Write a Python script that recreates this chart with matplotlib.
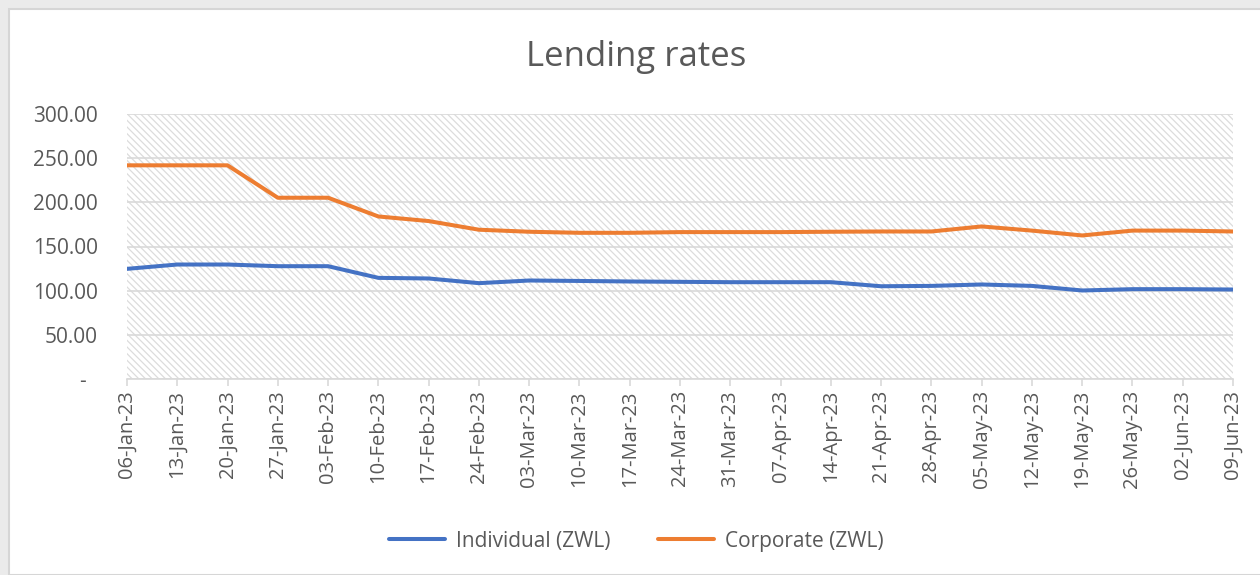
import matplotlib.pyplot as plt
from matplotlib.patches import Rectangle
from matplotlib.ticker import FuncFormatter

plt.rcParams["font.family"] = ["Open Sans", "DejaVu Sans"]
plt.rcParams["hatch.linewidth"] = 0.9

## data
dates = [
    "06-Jan-23", "13-Jan-23", "20-Jan-23", "27-Jan-23", "03-Feb-23",
    "10-Feb-23", "17-Feb-23", "24-Feb-23", "03-Mar-23", "10-Mar-23",
    "17-Mar-23", "24-Mar-23", "31-Mar-23", "07-Apr-23", "14-Apr-23",
    "21-Apr-23", "28-Apr-23", "05-May-23", "12-May-23", "19-May-23",
    "26-May-23", "02-Jun-23", "09-Jun-23",
]
individual = [
    124.7, 129.6, 129.6, 127.7, 127.7, 114.5, 113.8, 108.5, 111.5, 111.0,
    110.4, 110.0, 109.6, 109.6, 109.6, 105.0, 105.4, 107.0, 105.4, 100.2,
    101.7, 101.7, 101.3,
]
corporate = [
    241.9, 241.9, 241.9, 205.2, 205.2, 184.0, 178.8, 169.0, 166.7, 165.5,
    165.5, 166.3, 166.3, 166.3, 166.7, 167.0, 167.0, 172.7, 168.0, 162.5,
    168.0, 168.0, 167.0,
]

grey_text = "#595959"
grid_col = "#d9d9d9"

fig = plt.figure(figsize=(12.6, 5.75), dpi=100, facecolor="#ebebeb")

## white chart card with a thin border
fig.patches.append(Rectangle((9 / 1260, 0), 1, 1 - 9 / 575,
                             transform=fig.transFigure, facecolor="white",
                             edgecolor="#d6d6d6", linewidth=1.5, zorder=-5))

ax = fig.add_axes([127 / 1260, 1 - 379 / 575, (1233 - 127) / 1260, (379 - 114) / 575])
ax.set_facecolor("white")

## hatched plot area
ax.add_patch(Rectangle((0, 0), 1, 1, transform=ax.transAxes, facecolor="white",
                       edgecolor="#dcdcdc", hatch="\\\\\\\\\\", linewidth=0, zorder=0))

x = list(range(len(dates)))
ax.plot(x, individual, color="#4472C4", lw=2.9, label="Individual (ZWL)",
        solid_capstyle="round", zorder=3)
ax.plot(x, corporate, color="#ED7D31", lw=2.9, label="Corporate (ZWL)",
        solid_capstyle="round", zorder=3)

ax.set_xlim(0, len(dates) - 1)
ax.set_ylim(0, 300)
ax.set_yticks([0, 50, 100, 150, 200, 250, 300])
ax.yaxis.set_major_formatter(FuncFormatter(lambda v, p: "-  " if v == 0 else f"{v:.2f}"))
ax.grid(axis="y", color=grid_col, lw=1.2, zorder=1)
ax.set_axisbelow(True)

ax.set_xticks(x)
ax.set_xticklabels(dates, rotation=90)

for s in ["top", "right", "left"]:
    ax.spines[s].set_visible(False)
ax.spines["bottom"].set_color(grid_col)
ax.spines["bottom"].set_linewidth(1.2)

ax.tick_params(axis="y", length=0, pad=21, labelsize=15, labelcolor=grey_text)
ax.tick_params(axis="x", length=5, width=1.2, color=grid_col, pad=3,
               labelsize=14.5, labelcolor=grey_text)

fig.text(0.505, 1 - 57 / 575, "Lending rates", ha="center", va="center",
         fontsize=25, color=grey_text)

fig.legend(loc="center", bbox_to_anchor=(0.505, 1 - 541 / 575), ncol=2,
           frameon=False, fontsize=15, labelcolor=grey_text,
           handlelength=2.7, columnspacing=2.3, handletextpad=0.5)

plt.savefig("out.png", dpi=100, facecolor=fig.get_facecolor())
